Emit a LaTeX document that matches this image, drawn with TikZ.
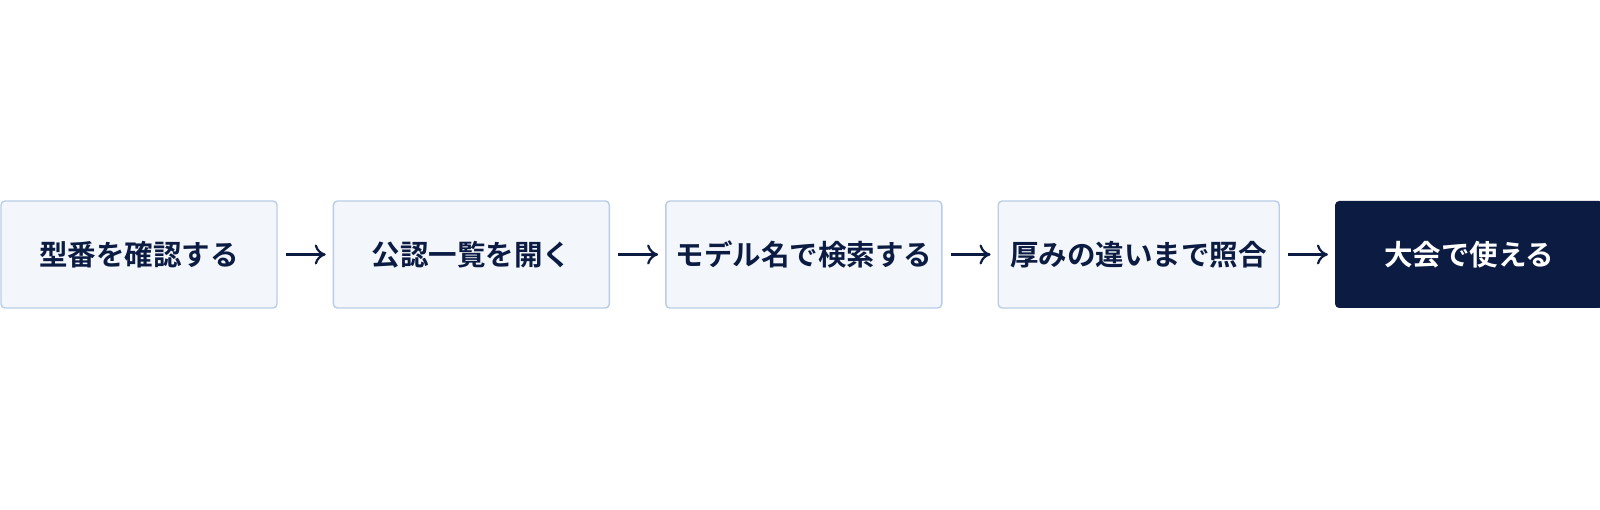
\documentclass[tikz,border=0pt]{standalone}
\usepackage{fontspec}
\setmainfont{Noto Sans CJK JP Bold}
\usetikzlibrary{positioning,arrows.meta}

\definecolor{navy}{HTML}{0B1B42}
\definecolor{stepfill}{HTML}{F3F6FB}
\definecolor{stepline}{HTML}{B9CDE7}

\begin{document}
\begin{tikzpicture}[x=1pt,y=1pt,
            node distance=55pt,
            every node/.style={rounded corners=4pt,minimum height=107pt,
                minimum width=276pt,inner sep=0pt,font=\fontsize{28.5}{34}\selectfont},
            stepbox/.style={draw=stepline,line width=1.4pt,fill=stepfill,text=navy},
            goalbox/.style={fill=navy,text=white},
            flow/.style={-{To[length=11pt,width=20pt]},line width=2.2pt,draw=navy,
                shorten <=8pt,shorten >=7pt},
            ]
            \useasboundingbox (0,0) rectangle (1600,509);

            \node[stepbox] (check) at (139,254.5) {型番を確認する};
            \node[stepbox,right=of check] (list) {公認一覧を開く};
            \node[stepbox,right=of list] (search) {モデル名で検索する};
            \node[stepbox,right=of search,minimum width=281pt] (match) {厚みの違いまで照合};
            \node[goalbox,right=of match,minimum width=268pt] (use) {大会で使える};

            \draw[flow] (check) -- (list);
            \draw[flow] (list) -- (search);
            \draw[flow] (search) -- (match);
            \draw[flow] (match) -- (use);
        \end{tikzpicture}
\end{document}
